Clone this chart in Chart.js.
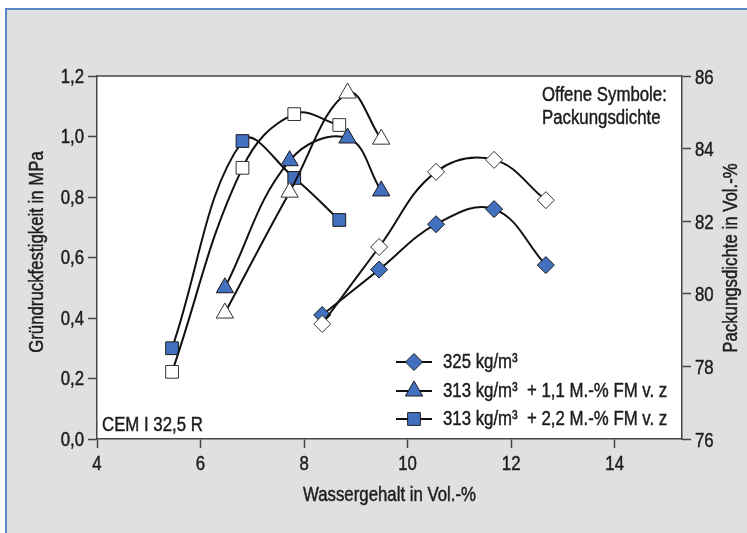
<!DOCTYPE html>
<html><head><meta charset="utf-8">
<script src="https://cdn.jsdelivr.net/npm/chart.js@4"></script>
<style>
html,body{margin:0;padding:0;background:#fff;overflow:hidden;}
#frame{position:absolute;left:5px;top:8px;width:760px;height:540px;background:#e0e0e0;border-left:2px solid #5b86c8;border-top:2px solid #5b86c8;}
#wrap{position:absolute;left:0;top:0;width:747px;height:533px;}
</style></head><body>
<div id="frame"></div>
<div id="wrap"><canvas id="c" width="747" height="533"></canvas></div>
<script>
// ---- data ----
const xDiamond = [8.35, 9.45, 10.55, 11.67, 12.67];
const strengthDiamond = [0.41, 0.56, 0.71, 0.76, 0.575];
const densityDiamond = [79.17, 81.29, 83.36, 83.69, 82.58];

const xTriangle = [6.47, 7.72, 8.84, 9.49];
const strengthTriangle = [0.50, 0.92, 0.995, 0.82];
const densityTriangle = [79.47, 82.80, 85.53, 84.26];

const xSquare = [5.45, 6.81, 7.81, 8.68];
const strengthSquare = [0.30, 0.985, 0.863, 0.724];
const densitySquare = [77.85, 83.47, 84.95, 84.65];

const seriesLabels = ['325 kg/m³', '313 kg/m³  + 1,1 M.-% FM v. z', '313 kg/m³  + 2,2 M.-% FM v. z'];
const leftTitle = 'Gründruckfestigkeit in MPa';
const rightTitle = 'Packungsdichte in Vol.-%';
const xTitle = 'Wassergehalt in Vol.-%';
const noteLines = ['Offene Symbole:', 'Packungsdichte'];
const cementLabel = 'CEM I 32,5 R';

const FONT = '"Liberation Sans", Arial, sans-serif';
const FS = 20;
const SX = 0.84;   // horizontal condensing of the text
const BLUE = '#4470c0';
const TXT = '#1c1c1c';

const pts = (xs, ys) => xs.map((x, i) => ({x, y: ys[i]}));

function ds(label, xs, ys, axis, style, radius, filled, inLegend) {
  return {
    label, data: pts(xs, ys), yAxisID: axis,
    borderColor: '#111', borderWidth: 2, tension: 0.4,
    pointStyle: style, pointRadius: radius, pointHoverRadius: radius,
    pointBackgroundColor: filled ? BLUE : '#fff',
    pointBorderColor: filled ? '#1a1a1a' : '#333',
    pointBorderWidth: 1, inLegend, fill: false
  };
}

const datasets = [
  ds(seriesLabels[0] + ' (PD)', xDiamond, densityDiamond, 'y2', 'rectRot', 8.5, false, false),
  ds(seriesLabels[1] + ' (PD)', xTriangle, densityTriangle, 'y2', 'triangle', 10, false, false),
  ds(seriesLabels[2] + ' (PD)', xSquare, densitySquare, 'y2', 'rect', 9, false, false),
  ds(seriesLabels[0], xDiamond, strengthDiamond, 'y', 'rectRot', 8.5, true, true),
  ds(seriesLabels[1], xTriangle, strengthTriangle, 'y', 'triangle', 10, true, true),
  ds(seriesLabels[2], xSquare, strengthSquare, 'y', 'rect', 9, true, true)
];

function drawMarker(ctx, d, x, y) {
  ctx.save();
  ctx.fillStyle = d.pointBackgroundColor;
  ctx.strokeStyle = d.pointBorderColor;
  ctx.lineWidth = d.pointBorderWidth;
  if (Chart.helpers && Chart.helpers.drawPoint) {
    Chart.helpers.drawPoint(ctx, {pointStyle: d.pointStyle, radius: d.pointRadius, borderWidth: d.pointBorderWidth, rotation: 0}, x, y);
  }
  ctx.restore();
}

function drawText(ctx, text, x, y, align, rot) {
  ctx.save();
  ctx.translate(x, y);
  if (rot) ctx.rotate(rot);
  ctx.scale(SX, 1);
  ctx.font = FS + 'px ' + FONT;
  ctx.fillStyle = TXT;
  ctx.strokeStyle = TXT;
  ctx.lineWidth = 0.45;
  ctx.textAlign = align;
  ctx.textBaseline = 'middle';
  ctx.fillText(text, 0, 0);
  ctx.strokeText(text, 0, 0);
  ctx.restore();
}

const decor = {
  id: 'decor',
  beforeDraw(chart) {
    const {ctx, chartArea: a} = chart;
    ctx.save();
    ctx.fillStyle = '#fff';
    ctx.fillRect(a.left, a.top, a.right - a.left, a.bottom - a.top);
    ctx.restore();
  },
  afterDraw(chart) {
    const {ctx, chartArea: a} = chart;
    ctx.save();
    // top border
    ctx.strokeStyle = '#444'; ctx.lineWidth = 1.5;
    ctx.beginPath(); ctx.moveTo(a.left, a.top); ctx.lineTo(a.right, a.top); ctx.stroke();
    ctx.restore();

    // tick labels, placed by the library's scales
    const sx = chart.scales.x, sy = chart.scales.y, sy2 = chart.scales.y2;
    sx.ticks.forEach(t => drawText(ctx, String(t.value), sx.getPixelForValue(t.value), a.bottom + 25, 'center'));
    sy.ticks.forEach(t => drawText(ctx, t.value.toFixed(1).replace('.', ','), a.left - 13, sy.getPixelForValue(t.value) + 1, 'right'));
    sy2.ticks.forEach(t => drawText(ctx, String(t.value), a.right + 13, sy2.getPixelForValue(t.value) + 2, 'left'));

    // axis titles
    drawText(ctx, leftTitle, 37, 252, 'center', -Math.PI / 2);
    drawText(ctx, rightTitle, 731, 258, 'center', -Math.PI / 2);
    drawText(ctx, xTitle, (a.left + a.right) / 2, 495, 'center');
    // notes
    drawText(ctx, noteLines[0], 542, 95, 'left');
    drawText(ctx, noteLines[1], 542, 118, 'left');
    drawText(ctx, cementLabel, 102, 425, 'left');
    // legend
    const rows = [362, 391, 419];
    chart.data.datasets.filter(d => d.inLegend).forEach((d, i) => {
      const y = rows[i];
      ctx.save();
      ctx.strokeStyle = '#111'; ctx.lineWidth = 2;
      ctx.beginPath(); ctx.moveTo(396, y); ctx.lineTo(432, y); ctx.stroke();
      ctx.restore();
      drawMarker(ctx, d, 414, y);
      drawText(ctx, d.label, 443, y, 'left');
    });
  }
};

const axisCommon = {
  border: {color: '#444', width: 1.5},
  grid: {drawOnChartArea: false, color: '#444', tickColor: '#444', tickLength: 9, tickWidth: 1.5},
};

new Chart(document.getElementById('c'), {
  type: 'line',
  data: {datasets},
  options: {
    responsive: false, animation: false, devicePixelRatio: 1,
    layout: {padding: {top: 76, left: 0, right: 0, bottom: 0}},
    plugins: {legend: {display: false}, tooltip: {enabled: false}},
    scales: {
      x: Object.assign({}, axisCommon, {
        type: 'linear', min: 4, max: 15.3,
        ticks: {stepSize: 2, display: false},
        afterBuildTicks: s => { s.ticks = s.ticks.filter(t => Math.abs(t.value % 2) < 1e-6); },
        afterFit: s => { s.height = 94; }
      }),
      y: Object.assign({}, axisCommon, {
        type: 'linear', position: 'left', min: 0, max: 1.2,
        ticks: {stepSize: 0.2, display: false},
        afterFit: s => { s.width = 97; }
      }),
      y2: Object.assign({}, axisCommon, {
        type: 'linear', position: 'right', min: 76, max: 86,
        ticks: {stepSize: 2, display: false},
        afterFit: s => { s.width = 65; }
      })
    }
  },
  plugins: [decor]
});
</script>
</body></html>
